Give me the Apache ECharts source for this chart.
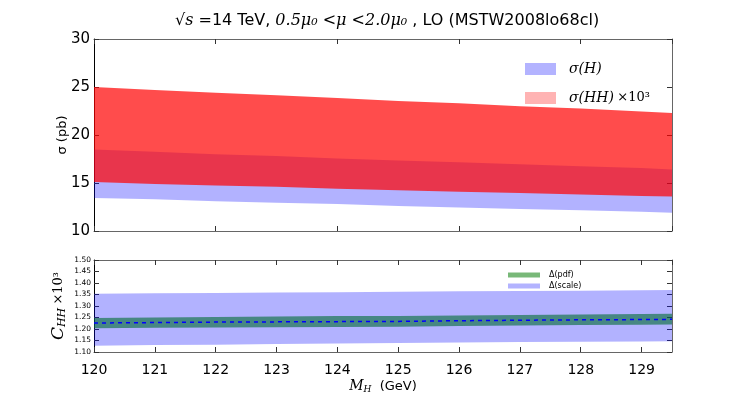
<!DOCTYPE html>
<html>
<head>
<meta charset="utf-8">
<script src="https://cdn.jsdelivr.net/npm/echarts@6/dist/echarts.min.js"></script>
<style>
  html, body { margin: 0; padding: 0; background: #fff; }
  #chart { width: 747px; height: 395px; }
</style>
</head>
<body>
<div id="chart"></div>
<script>
// Higgs mass points (GeV)
const mass = [120, 121, 122, 123, 124, 125, 126, 127, 128, 129, 129.5];

// top panel: cross sections (pb)
const sigmaHLow = [13.45, 13.3, 13.1, 12.95, 12.8, 12.6, 12.45, 12.3, 12.15, 12.0, 11.9];
const sigmaHHigh = [18.5, 18.25, 18.0, 17.8, 17.55, 17.35, 17.15, 16.95, 16.75, 16.55, 16.4];
const sigmaHHLow = [15.1, 14.9, 14.75, 14.6, 14.4, 14.25, 14.1, 13.95, 13.8, 13.65, 13.6];
const sigmaHHHigh = [25.0, 24.7, 24.4, 24.15, 23.85, 23.55, 23.3, 23.0, 22.75, 22.45, 22.3];

// bottom panel: C_HH x 10^3
const scaleLow = [1.127, 1.13, 1.132, 1.135, 1.137, 1.139, 1.141, 1.143, 1.145, 1.146, 1.147];
const scaleHigh = [1.353, 1.355, 1.357, 1.359, 1.36, 1.362, 1.364, 1.365, 1.366, 1.368, 1.37];
const pdfLow = [1.203, 1.205, 1.207, 1.208, 1.209, 1.21, 1.213, 1.215, 1.217, 1.219, 1.22];
const pdfHigh = [1.248, 1.25, 1.252, 1.254, 1.256, 1.257, 1.259, 1.261, 1.263, 1.265, 1.266];
const central = [1.226, 1.228, 1.23, 1.231, 1.232, 1.233, 1.236, 1.238, 1.24, 1.241, 1.242];

const topTicks = [10, 15, 20, 25, 30];

const chart = echarts.init(document.getElementById('chart'));

// one polygon per band, built from the data through the axes
function band(name, xi, yi, lo, hi, fill, opacity, legendColor) {
    return {
        name: name,
        type: 'custom',
        xAxisIndex: xi,
        yAxisIndex: yi,
        itemStyle: { color: legendColor },
        data: mass.map((m, i) => [m, lo[i], hi[i]]),
        renderItem: function (params, api) {
            if (params.dataIndex !== 0) return;
            const pts = [];
            for (let i = 0; i < mass.length; i++) pts.push(api.coord([mass[i], hi[i]]));
            for (let i = mass.length - 1; i >= 0; i--) pts.push(api.coord([mass[i], lo[i]]));
            return {
                type: 'polygon',
                shape: { points: pts },
                style: { fill: fill, opacity: opacity, stroke: null }
            };
        },
        silent: true,
        z: 2
    };
}

const tickStyle = { show: true, inside: true, length: 5, lineStyle: { color: '#333' } };
const lineStyle = { show: true, lineStyle: { color: '#666', width: 1 } };

function plainX(grid, pos, interval) {
    return {
        type: 'value', gridIndex: grid, position: pos, min: 120, max: 129.5, interval: interval,
        axisLine: lineStyle, axisTick: tickStyle, axisLabel: { show: false },
        splitLine: { show: false }
    };
}
function plainY(grid, pos, min, max, interval) {
    return {
        type: 'value', gridIndex: grid, position: pos, min: min, max: max, interval: interval,
        axisLine: lineStyle, axisTick: tickStyle, axisLabel: { show: false },
        splitLine: { show: false }
    };
}

const option = {
    backgroundColor: '#fff',
    animation: false,
    title: {
        text: '{m|√s} =14 TeV, {m|0.5μ₀ <μ <2.0μ₀} , LO (MSTW2008lo68cl)',
        left: 170,
        top: 8,
        textStyle: {
            fontFamily: 'DejaVu Sans',
            fontSize: 16,
            fontWeight: 'normal',
            color: '#000',
            rich: {
                m: { fontFamily: 'DejaVu Serif', fontStyle: 'italic', fontSize: 16, color: '#000' }
            }
        }
    },
    grid: [
        { left: 94, top: 39, width: 578, height: 192 },
        { left: 94, top: 260, width: 578, height: 93 }
    ],
    legend: [
        {
            left: 520, top: 57, orient: 'vertical', itemGap: 15,
            itemWidth: 31, itemHeight: 12, icon: 'rect',
            data: [
                { name: 'σ(H)', itemStyle: { color: '#b3b3ff' } },
                { name: 'σ(HH) ×10³', itemStyle: { color: '#ffb3b3' } }
            ],
            formatter: function (n) {
                return n === 'σ(H)' ? '{i|σ(H)}' : '{i|σ(HH)} {n|×10³}';
            },
            textStyle: {
                padding: [0, 0, 0, 8],
                rich: {
                    i: { fontFamily: 'DejaVu Serif', fontStyle: 'italic', fontSize: 14, color: '#000' },
                    n: { fontFamily: 'DejaVu Serif', fontSize: 13, color: '#000' }
                }
            },
            selectedMode: false
        },
        {
            left: 503, top: 266, orient: 'vertical', itemGap: 3,
            itemWidth: 32, itemHeight: 5, icon: 'rect',
            data: [
                { name: 'Δ(pdf)', itemStyle: { color: '#78b878' } },
                { name: 'Δ(scale)', itemStyle: { color: '#b3b3ff' } }
            ],
            textStyle: { fontFamily: 'DejaVu Sans', fontSize: 8, color: '#000', padding: [0, 0, 0, 4] },
            selectedMode: false
        }
    ],
    xAxis: [
        plainX(0, 'bottom', 2),
        plainX(0, 'top', 2),
        {
            type: 'value', gridIndex: 1, position: 'bottom', min: 120, max: 129.5, interval: 1,
            axisLine: lineStyle, axisTick: tickStyle,
            axisLabel: { fontFamily: 'DejaVu Sans', fontSize: 14, color: '#000', margin: 11 },
            splitLine: { show: false },
            name: '{i|M}{s|H}  (GeV)',
            nameLocation: 'middle',
            nameGap: 27,
            nameTextStyle: {
                fontFamily: 'DejaVu Sans', fontSize: 13, color: '#000',
                rich: {
                    i: { fontFamily: 'DejaVu Serif', fontStyle: 'italic', fontSize: 14, color: '#000' },
                    s: { fontFamily: 'DejaVu Serif', fontStyle: 'italic', fontSize: 9, color: '#000', verticalAlign: 'bottom', padding: [6, 0, 0, 0] }
                }
            }
        },
        plainX(1, 'top', 1)
    ],
    yAxis: [
        {
            type: 'value', gridIndex: 0, position: 'left', min: topTicks[0], max: topTicks[topTicks.length - 1], interval: 5,
            axisLine: { show: true, lineStyle: { color: '#000', width: 1 } }, axisTick: tickStyle,
            axisLabel: { fontFamily: 'DejaVu Sans', fontSize: 15, color: '#000', margin: 4 },
            splitLine: { show: false },
            name: 'σ (pb)', nameLocation: 'middle', nameRotate: 90, nameGap: 25,
            nameMoveOverlap: false,
            nameTextStyle: { fontFamily: 'DejaVu Sans', fontSize: 13, color: '#000' }
        },
        plainY(0, 'right', 10, 30, 5),
        {
            type: 'value', gridIndex: 1, position: 'left', min: 1.1, max: 1.5, interval: 0.05,
            axisLine: { show: true, lineStyle: { color: '#000', width: 1 } }, axisTick: tickStyle,
            axisLabel: {
                fontFamily: 'DejaVu Sans', fontSize: 7.5, color: '#000', margin: 3,
                formatter: v => v.toFixed(2)
            },
            splitLine: { show: false },
            name: '{i|C}{s|HH} {n|×10³}', nameLocation: 'middle', nameRotate: 90, nameGap: 26,
            nameMoveOverlap: false,
            nameTextStyle: {
                rich: {
                    i: { fontFamily: 'DejaVu Serif', fontStyle: 'italic', fontSize: 17, color: '#000' },
                    s: { fontFamily: 'DejaVu Serif', fontStyle: 'italic', fontSize: 11, color: '#000', verticalAlign: 'bottom', padding: [8, 0, 0, 0] },
                    n: { fontFamily: 'DejaVu Serif', fontSize: 13, color: '#000' }
                }
            }
        },
        plainY(1, 'right', 1.1, 1.5, 0.05)
    ],
    series: [
        band('σ(H)', 0, 0, sigmaHLow, sigmaHHigh, '#0000ff', 0.3, '#b3b3ff'),
        band('σ(HH) ×10³', 0, 0, sigmaHHLow, sigmaHHHigh, '#ff0000', 0.7, '#ffb3b3'),
        band('Δ(scale)', 2, 2, scaleLow, scaleHigh, '#0000ff', 0.3, '#b3b3ff'),
        band('Δ(pdf)', 2, 2, pdfLow, pdfHigh, '#006a30', 0.6, '#78b878'),
        {
            name: 'central',
            type: 'line',
            xAxisIndex: 2,
            yAxisIndex: 2,
            data: mass.map((m, i) => [m, central[i]]),
            showSymbol: false,
            lineStyle: { color: '#0000ff', width: 1.5, type: [4, 4] },
            silent: true,
            z: 3
        }
    ]
};

chart.setOption(option);
</script>
</body>
</html>
